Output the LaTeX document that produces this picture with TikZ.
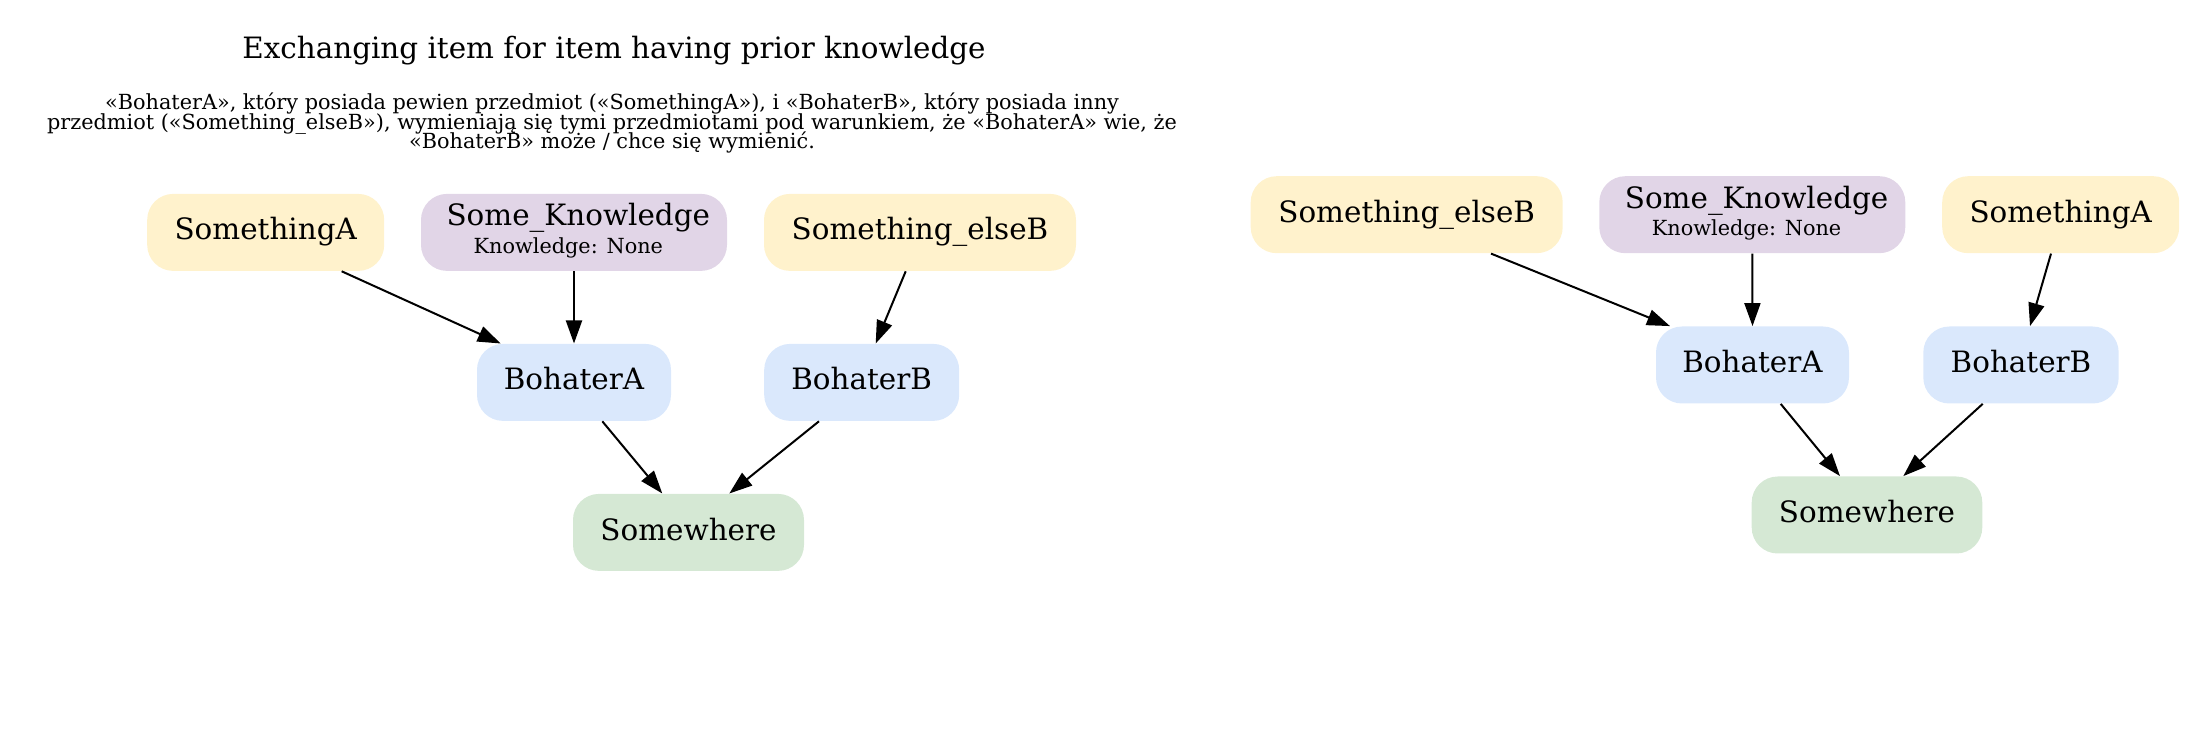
\documentclass[tikz,border=0pt]{standalone}
\usepackage{fontspec}
\setmainfont{DejaVu Serif}
\usetikzlibrary{arrows.meta}

\definecolor{itemfill}{HTML}{FFF2CC}
\definecolor{knowfill}{HTML}{E1D5E7}
\definecolor{herofill}{HTML}{DAE8FC}
\definecolor{placefill}{HTML}{D5E8D4}

\tikzset{
  box/.style={rectangle, rounded corners=13pt, inner sep=0pt,
    minimum height=38.5pt, font=\fontsize{14.7}{17}\selectfont,
    text height=11pt, text depth=3.4pt},
  itembox/.style={box, fill=itemfill},
  knowbox/.style={box, fill=knowfill},
  herobox/.style={box, fill=herofill},
  placebox/.style={box, fill=placefill},
  bigtext/.style={anchor=base, inner sep=0pt, font=\fontsize{14.7}{17}\selectfont},
  smalltext/.style={anchor=base, inner sep=0pt, font=\fontsize{10.4}{12}\selectfont},
  subtext/.style={anchor=base, inner sep=0pt, font=\fontsize{10.4}{12}\selectfont},
  link/.style={draw=black, line width=1pt, -{Triangle[length=11.5pt,width=8pt]}},
}

\begin{document}
\begin{tikzpicture}[x=0.5pt, y=-0.5pt]
\useasboundingbox (0,0) rectangle (2207,748);

% heading of the left graph
\node[bigtext] (title) at (614,58.3) {Exchanging item for item having prior knowledge};
\node[subtext] (sub1) at (612,110) {«BohaterA», który posiada pewien przedmiot («SomethingA»), i «BohaterB», który posiada inny};
\node[subtext] (sub2) at (612,129.5) {przedmiot («Something\_elseB»), wymieniają się tymi przedmiotami pod warunkiem, że «BohaterA» wie, że};
\node[subtext] (sub3) at (612,149) {«BohaterB» może / chce się wymienić.};

% left graph
\node[itembox, minimum width=118.5pt] (lSa) at (265.7,232.4) {SomethingA};
\node[knowbox, minimum width=153pt] (lSk) at (574,232.4) {};
\node[bigtext] (lSkName) at (578.3,226) {Some\_Knowledge};
\node[smalltext] (lSkInfo) at (568.3,253.3) {Knowledge: None};
\node[itembox, minimum width=156pt] (lSe) at (920,232.4) {Something\_elseB};
\node[herobox, minimum width=97pt] (lBa) at (574,382.4) {BohaterA};
\node[herobox, minimum width=97.5pt] (lBb) at (861.7,382.4) {BohaterB};
\node[placebox, minimum width=115.5pt] (lSw) at (688.5,532.4) {Somewhere};

\draw[link] ([xshift=38pt]lSa.south) -- ([xshift=-36.65pt]lBa.north);
\draw[link] (lSk.south) -- (lBa.north);
\draw[link] ([xshift=-7.15pt]lSe.south) -- ([xshift=7pt]lBb.north);
\draw[link] ([xshift=14.15pt]lBa.south) -- ([xshift=-13.1pt]lSw.north);
\draw[link] ([xshift=-21.35pt]lBb.south) -- ([xshift=20.4pt]lSw.north);

% right graph
\node[itembox, minimum width=156pt] (rSe) at (1406.7,214.7) {Something\_elseB};
\node[knowbox, minimum width=153pt] (rSk) at (1752.3,214.7) {};
\node[bigtext] (rSkName) at (1756.6,208.3) {Some\_Knowledge};
\node[smalltext] (rSkInfo) at (1746.6,235.6) {Knowledge: None};
\node[itembox, minimum width=118.5pt] (rSa) at (2060.7,214.7) {SomethingA};
\node[herobox, minimum width=96.5pt] (rBa) at (1752.5,365) {BohaterA};
\node[herobox, minimum width=97.7pt] (rBb) at (2021,365) {BohaterB};
\node[placebox, minimum width=115.3pt] (rSw) at (1867,515) {Somewhere};

\draw[link] ([xshift=42.15pt]rSe.south) -- ([xshift=-41.25pt]rBa.north);
\draw[link] (rSk.south) -- (rBa.north);
\draw[link] ([xshift=-4.85pt]rSa.south) -- ([xshift=4.5pt]rBb.north);
\draw[link] ([xshift=14.1pt]rBa.south) -- ([xshift=-13.5pt]rSw.north);
\draw[link] ([xshift=-19.15pt]rBb.south) -- ([xshift=18.15pt]rSw.north);
\end{tikzpicture}
\end{document}
